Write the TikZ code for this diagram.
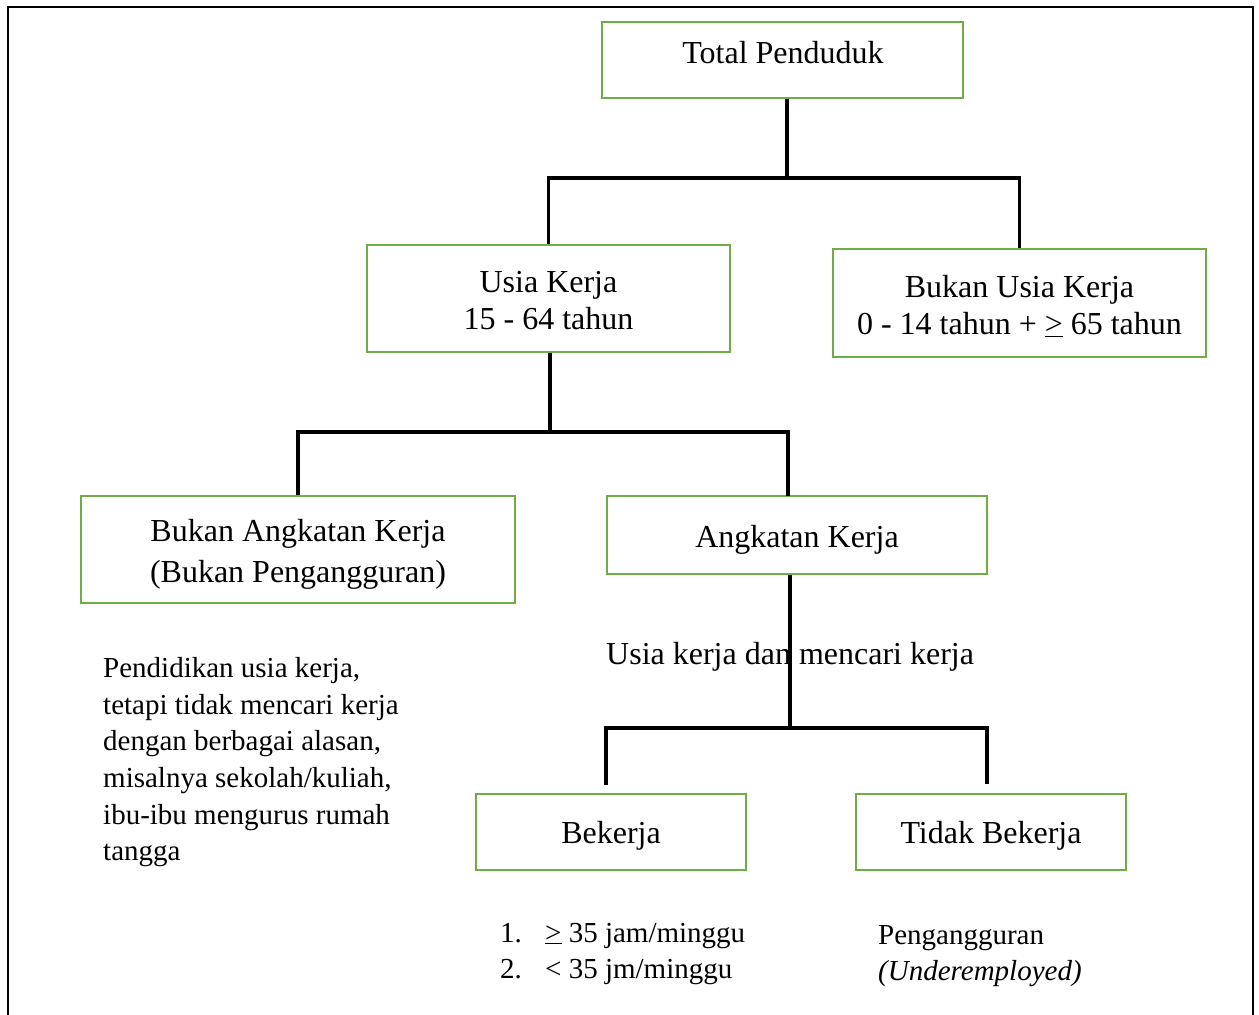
\documentclass[tikz,border=0pt]{standalone}
\usepackage{fontspec}
\setmainfont{Liberation Serif}
\definecolor{boxgreen}{HTML}{70AD47}
\begin{document}
\begin{tikzpicture}[x=1pt,y=-1pt,
  box/.style={draw=boxgreen, line width=2.2pt, inner sep=0pt},
  conn/.style={draw=black, line width=3.2pt},
  big/.style={inner sep=0pt, align=center, font=\fontsize{32}{37}\selectfont},
  note/.style={inner sep=0pt, align=left, font=\fontsize{29}{36.7}\selectfont},
]
\useasboundingbox (0,0) rectangle (1259,1015);
\draw[line width=2pt] (8,1030) -- (8,7) -- (1253,7) -- (1253,1030);

% boxes
\node[box, minimum width=361, minimum height=76] (tot) at (782.5,60) {};
\node[box, minimum width=363, minimum height=107] (uk) at (548.5,298.5) {};
\node[box, minimum width=373, minimum height=108] (bu) at (1019.5,303) {};
\node[box, minimum width=434, minimum height=107] (bak) at (298,549.5) {};
\node[box, minimum width=380, minimum height=78] (ak) at (797,535) {};
\node[box, minimum width=270, minimum height=76] (bk) at (611,832) {};
\node[box, minimum width=270, minimum height=76] (tb) at (991,832) {};

% box texts
\node[big, anchor=base] (tott) at (783,63) {Total Penduduk};
\node[big] (ukt) at ([yshift=-2pt]uk.center) {Usia Kerja\\15 - 64 tahun};
\node[big] (but) at ([yshift=-3pt]bu.center) {Bukan Usia Kerja\\0 - 14 tahun + \underline{>} 65 tahun};
\node[big, font=\fontsize{32}{41}\selectfont] (bakt) at ([yshift=-5pt]bak.center) {Bukan Angkatan Kerja\\(Bukan Pengangguran)};
\node[big] (akt) at ([yshift=-5pt]ak.center) {Angkatan Kerja};
\node[big] (bkt) at ([yshift=-4pt]bk.center) {Bekerja};
\node[big] (tbt) at ([yshift=-4pt]tb.center) {Tidak Bekerja};

% connectors
\coordinate (j1) at (787,178);
\draw[conn] (tot.south -| j1) -- (j1);
\draw[conn] (uk.north) |- (j1) -| (bu.north);
\coordinate (j2) at (550,432);
\coordinate (j2r) at (788,496);
\draw[conn] (uk.south -| j2) -- (j2);
\draw[conn] (bak.north) |- (j2) -| (j2r);
\coordinate (j3) at (790,728);
\coordinate (b1) at (606,785);
\coordinate (b2) at (987,784);
\draw[conn] (ak.south -| j3) -- (j3);
\draw[conn] (b1) |- (j3) -| (b2);

% texts
\node[big, anchor=base west] (lbl) at (606,664) {Usia kerja dan mencari kerja};
\node[note, anchor=north west] (para) at (103,657) {Pendidikan usia kerja,\\tetapi tidak mencari kerja\\dengan berbagai alasan,\\misalnya sekolah/kuliah,\\ibu-ibu mengurus rumah\\tangga};
\node[note, anchor=base west] (n1) at (500,942) {1.};
\node[note, anchor=base west] (l1) at (545,942) {\underline{>} 35 jam/minggu};
\node[note, anchor=base west] (n2) at (500,978) {2.};
\node[note, anchor=base west] (l2) at (545,978) {< 35 jm/minggu};
\node[note, anchor=base west] (p1) at (878,944) {Pengangguran};
\node[note, anchor=base west] (p2) at (878,980) {\itshape (Underemployed)};
\end{tikzpicture}
\end{document}
